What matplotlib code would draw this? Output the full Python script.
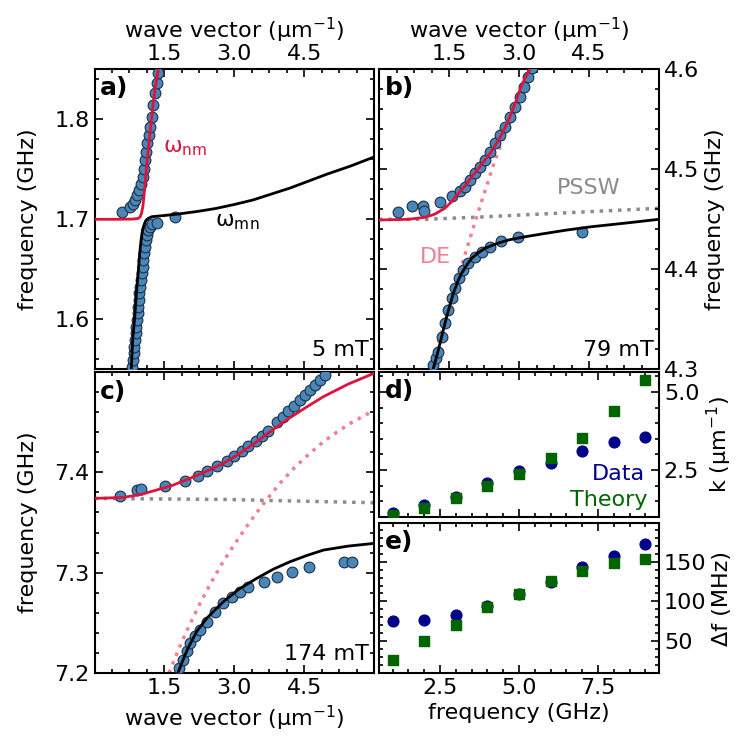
import numpy as np
import matplotlib
matplotlib.use('Agg')
from matplotlib import pyplot as plt
from matplotlib.ticker import AutoMinorLocator, MultipleLocator

plt.rcParams['font.family'] = ['DejaVu Sans']
plt.rcParams['font.size'] = 16
plt.rcParams['mathtext.default'] = 'regular'

# ---- panel a) 5 mT ----
a_nm_k = [0.0, 0.5, 0.8, 0.93, 0.98, 1.01, 1.04, 1.06, 1.08, 1.105, 1.13, 1.16, 1.19, 1.225,
          1.26, 1.295, 1.33, 1.38]
a_nm_f = [1.6997, 1.6997, 1.6999, 1.7005, 1.702, 1.706, 1.713, 1.722, 1.7323, 1.745, 1.759,
          1.772, 1.7857, 1.80, 1.8157, 1.828, 1.839, 1.852]
a_mn_k = [0.79, 0.82, 0.86, 0.9, 0.94, 0.97, 1.0, 1.03, 1.07, 1.1, 1.15, 1.23, 1.5, 1.8, 2.2,
          2.6, 3.0, 3.4, 3.8, 4.2, 4.6, 5.0, 5.5, 6.0]
a_mn_f = [1.55, 1.5793, 1.60, 1.6257, 1.648, 1.6657, 1.679, 1.689, 1.695, 1.6983, 1.7005, 1.7023,
          1.7035, 1.705, 1.7075, 1.7105, 1.7145, 1.719, 1.725, 1.731, 1.738, 1.745, 1.753, 1.762]
a_up_k = [0.6, 0.76, 0.82, 0.87, 0.92, 0.962, 1.0, 1.034, 1.06, 1.084, 1.11, 1.134, 1.16, 1.19,
          1.227, 1.26, 1.30, 1.335, 1.37]
a_up_f = [1.7073, 1.7123, 1.715, 1.719, 1.724, 1.729, 1.735, 1.7423, 1.75, 1.759, 1.767, 1.7757,
          1.784, 1.792, 1.8023, 1.814, 1.8257, 1.836, 1.8457]
a_lo_k = [0.80, 0.81, 0.834, 0.845, 0.855, 0.87, 0.884, 0.893, 0.905, 0.925, 0.941, 0.952, 0.962,
          0.98, 0.998, 1.015, 1.034, 1.048, 1.062, 1.085, 1.105, 1.13, 1.155, 1.19, 1.227, 1.333,
          1.72]
a_lo_f = [1.545, 1.552, 1.559, 1.566, 1.5723, 1.579, 1.5857, 1.592, 1.599, 1.606, 1.6123, 1.619,
          1.6257, 1.632, 1.639, 1.646, 1.6523, 1.659, 1.6657, 1.672, 1.679, 1.684, 1.689, 1.692,
          1.695, 1.6957, 1.7023]

# ---- panel b) 79 mT ----
b_up_line_k = [0.0, 0.63, 0.99, 1.2, 1.41, 1.55, 1.70, 1.85, 1.99, 2.13, 2.27, 2.4, 2.52, 2.62,
               2.71, 2.79, 2.86, 2.93, 2.99, 3.05, 3.11, 3.24]
b_up_line_f = [4.449, 4.4497, 4.4517, 4.455, 4.4607, 4.467, 4.4757, 4.4835, 4.4923, 4.5005, 4.509,
               4.517, 4.5257, 4.534, 4.5423, 4.5505, 4.559, 4.567, 4.5757, 4.5825, 4.589, 4.6007]
b_lo_line_k = [1.16, 1.25, 1.33, 1.45, 1.593, 1.7, 1.771, 1.88, 1.986, 2.12, 2.271, 2.5, 2.771,
               3.1, 3.486, 4.0, 4.557, 5.3, 6.0]
b_lo_line_f = [4.30, 4.315, 4.33, 4.3523, 4.3757, 4.389, 4.3957, 4.404, 4.4107, 4.416, 4.4207,
               4.425, 4.429, 4.432, 4.435, 4.4388, 4.4423, 4.446, 4.4497]
b_pssw_k = [0.0, 0.986, 2.057, 3.486, 4.914, 6.0]
b_pssw_f = [4.4497, 4.4497, 4.4517, 4.455, 4.4583, 4.4607]
b_de_k = [1.09, 1.307, 1.55, 1.807, 2.093, 2.486, 2.914, 3.307]
b_de_f = [4.30, 4.3323, 4.37, 4.409, 4.4523, 4.509, 4.559, 4.599]
b_up_k = [0.414, 0.7, 0.95, 0.971, 1.307, 1.557, 1.736, 1.843, 1.95, 2.057, 2.164, 2.271, 2.379,
          2.486, 2.593, 2.7, 2.807, 2.914, 3.021, 3.114, 3.2, 3.271]
b_up_f = [4.4573, 4.463, 4.463, 4.4583, 4.4673, 4.473, 4.4783, 4.4823, 4.489, 4.4957, 4.5023,
          4.509, 4.5173, 4.5257, 4.534, 4.5423, 4.5523, 4.5623, 4.5723, 4.5823, 4.5923, 4.6007]
b_lo_k = [1.164, 1.22, 1.271, 1.343, 1.414, 1.486, 1.557, 1.628, 1.714, 1.807, 1.914, 2.057, 2.2,
          2.379, 2.614, 2.986, 4.357]
b_lo_f = [4.304, 4.311, 4.3173, 4.3323, 4.3457, 4.359, 4.3707, 4.3807, 4.3907, 4.399, 4.4063,
          4.4123, 4.4173, 4.4223, 4.428, 4.4323, 4.4373]

# ---- panel c) 174 mT ----
c_up_line_k = [0.0, 0.62, 1.0, 1.335, 1.7, 2.05, 2.4, 2.766, 3.12, 3.481, 3.839, 4.197, 4.55,
               4.913, 5.45, 6.0]
c_up_line_f = [7.374, 7.375, 7.378, 7.3824, 7.3875, 7.394, 7.401, 7.4089, 7.419, 7.4305, 7.4428,
               7.4545, 7.465, 7.4754, 7.488, 7.4987]
c_lo_line_k = [1.79, 1.9, 2.0, 2.19, 2.408, 2.6, 2.766, 3.1, 3.481, 3.84, 4.197, 4.55, 4.913,
               5.45, 6.0]
c_lo_line_f = [7.20, 7.213, 7.224, 7.2411, 7.2544, 7.2635, 7.271, 7.2835, 7.2943, 7.3035, 7.3109,
               7.317, 7.3225, 7.3265, 7.3292]
c_pssw_k = [0.0, 2.766, 6.0]
c_pssw_f = [7.374, 7.373, 7.3697]
c_de_k = [1.6, 1.8, 2.0, 2.25, 2.5, 2.75, 3.0, 3.25, 3.5, 3.75, 4.0, 4.3, 4.6, 4.9, 5.2, 5.5,
          5.85, 6.0]
c_de_f = [7.200, 7.223, 7.244, 7.268, 7.290, 7.310, 7.328, 7.345, 7.361, 7.376, 7.390, 7.405,
          7.418, 7.430, 7.440, 7.449, 7.458, 7.461]
c_up_k = [0.547, 0.905, 0.991, 1.514, 1.943, 2.229, 2.408, 2.637, 2.837, 2.995, 3.159, 3.303,
          3.46, 3.589, 3.732, 3.911, 4.04, 4.161, 4.283, 4.412, 4.519, 4.626, 4.734, 4.841, 4.948]
c_up_f = [7.3764, 7.3824, 7.383, 7.3863, 7.3917, 7.3963, 7.4013, 7.4063, 7.4113, 7.4166, 7.4216,
          7.4266, 7.4312, 7.4365, 7.4415, 7.4505, 7.4555, 7.4611, 7.4661, 7.4721, 7.4771, 7.4821,
          7.487, 7.492, 7.497]
c_lo_k = [1.82, 1.9, 1.98, 2.06, 2.15, 2.265, 2.408, 2.587, 2.766, 2.945, 3.124, 3.303, 3.639,
          3.911, 4.233, 4.605, 5.356, 5.521]
c_lo_f = [7.205, 7.213, 7.222, 7.23, 7.237, 7.2428, 7.2511, 7.2611, 7.2694, 7.276, 7.281, 7.2853,
          7.291, 7.2959, 7.3009, 7.3059, 7.3109, 7.3109]

# ---- panels d) and e) ----
freq = [1, 2, 3, 4, 5, 6, 7, 8, 9]
k_data = [1.11, 1.38, 1.62, 2.07, 2.45, 2.73, 3.12, 3.39, 3.57]
k_theory = [1.06, 1.27, 1.59, 2.0, 2.37, 2.87, 3.52, 4.39, 5.38]
df_data = [75.7, 76, 82.3, 94.3, 109, 125, 144, 156.7, 172.4]
df_theory = [26, 49.7, 70, 92.8, 109, 126, 138.6, 148.4, 153.4]
k_ticks = [1.5, 3.0, 4.5]

RED = '#dc143c'
PINK = '#f08092'
GRAY = '#8c8c8c'
DOT = '#4a86b8'
NAVY = '#00008b'
GREEN = '#006400'

W, H = 752, 750
fig = plt.figure(figsize=(7.52, 7.5), dpi=100)


def box(x0, y0, x1, y1):
    return [x0 / W, 1 - y1 / H, (x1 - x0) / W, (y1 - y0) / H]


ax_a = fig.add_axes(box(94.5, 69, 374, 369))
ax_b = fig.add_axes(box(379, 69, 659, 369))
ax_c = fig.add_axes(box(94.5, 372, 374, 673))
ax_d = fig.add_axes(box(379, 372, 659, 517))
ax_e = fig.add_axes(box(379, 523, 659, 673))


def style(ax):
    for s in ax.spines.values():
        s.set_linewidth(1.5)
    ax.tick_params(which='both', direction='in', top=True, right=True, width=1.2)
    ax.tick_params(which='major', length=6)
    ax.tick_params(which='minor', length=3)


def dispersion(ax, ylo, yhi):
    style(ax)
    ax.set_xlim(0, 6)
    ax.set_ylim(ylo, yhi)
    ax.set_xticks(k_ticks)
    ax.xaxis.set_minor_locator(MultipleLocator(0.375))
    ax.yaxis.set_major_locator(MultipleLocator(0.1))
    ax.yaxis.set_minor_locator(AutoMinorLocator(5))


def dots(ax, k, f):
    ax.scatter(k, f, s=60, color=DOT, edgecolor='#1b2f45', linewidth=0.8, zorder=3)


def tag(ax, s, y=0.975):
    ax.text(0.02, y, s, transform=ax.transAxes, ha='left', va='top', fontweight='bold', fontsize=18)


# a)
dispersion(ax_a, 1.55, 1.85)
dots(ax_a, a_up_k, a_up_f)
dots(ax_a, a_lo_k, a_lo_f)
ax_a.plot(a_nm_k, a_nm_f, color=RED, lw=2, zorder=4)
ax_a.plot(a_mn_k, a_mn_f, color='black', lw=2, zorder=4)
ax_a.tick_params(labeltop=True, labelbottom=False)
ax_a.xaxis.set_label_position('top')
ax_a.set_xlabel('wave vector (μm$^{-1}$)')
ax_a.set_ylabel('frequency (GHz)', labelpad=12)
ax_a.text(0.245, 0.737, 'ω$_{\\mathrm{nm}}$', color=RED, transform=ax_a.transAxes, va='center')
ax_a.text(0.431, 0.49, 'ω$_{\\mathrm{mn}}$', color='black', transform=ax_a.transAxes, va='center')
ax_a.text(0.98, 0.03, '5 mT', transform=ax_a.transAxes, ha='right', va='bottom')
tag(ax_a, 'a)')

# b)
dispersion(ax_b, 4.3, 4.6)
ax_b.plot(b_pssw_k, b_pssw_f, color=GRAY, lw=2.5, ls=':', zorder=1)
ax_b.plot(b_de_k, b_de_f, color=PINK, lw=2.5, ls=':', zorder=1)
dots(ax_b, b_up_k, b_up_f)
dots(ax_b, b_lo_k, b_lo_f)
ax_b.plot(b_up_line_k, b_up_line_f, color=RED, lw=2, zorder=4)
ax_b.plot(b_lo_line_k, b_lo_line_f, color='black', lw=2, zorder=4)
ax_b.tick_params(labeltop=True, labelbottom=False, labelleft=False, labelright=True)
ax_b.xaxis.set_label_position('top')
ax_b.yaxis.set_label_position('right')
ax_b.set_xlabel('wave vector (μm$^{-1}$)')
ax_b.set_ylabel('frequency (GHz)')
ax_b.text(0.75, 0.603, 'PSSW', color=GRAY, transform=ax_b.transAxes, ha='center', va='center')
ax_b.text(0.2, 0.373, 'DE', color=PINK, transform=ax_b.transAxes, ha='center', va='center')
ax_b.text(0.98, 0.03, '79 mT', transform=ax_b.transAxes, ha='right', va='bottom')
tag(ax_b, 'b)')

# c)
dispersion(ax_c, 7.2, 7.5)
ax_c.set_yticks([7.2, 7.3, 7.4])
ax_c.plot(c_pssw_k, c_pssw_f, color=GRAY, lw=2.5, ls=':', zorder=1)
ax_c.plot(c_de_k, c_de_f, color=PINK, lw=2.5, ls=':', zorder=1)
dots(ax_c, c_up_k, c_up_f)
dots(ax_c, c_lo_k, c_lo_f)
ax_c.plot(c_up_line_k, c_up_line_f, color=RED, lw=2, zorder=4)
ax_c.plot(c_lo_line_k, c_lo_line_f, color='black', lw=2, zorder=4)
ax_c.set_xlabel('wave vector (μm$^{-1}$)')
ax_c.set_ylabel('frequency (GHz)', labelpad=12)
ax_c.text(0.98, 0.03, '174 mT', transform=ax_c.transAxes, ha='right', va='bottom')
tag(ax_c, 'c)')

# d)
style(ax_d)
ax_d.scatter(freq, k_data, s=60, color=NAVY, marker='o', zorder=3)
ax_d.scatter(freq, k_theory, s=55, color=GREEN, marker='s', zorder=3)
ax_d.set_xlim(0.57, 9.43)
ax_d.set_ylim(0.99, 5.64)
ax_d.xaxis.set_major_locator(MultipleLocator(2.5))
ax_d.xaxis.set_minor_locator(AutoMinorLocator(5))
ax_d.yaxis.set_major_locator(MultipleLocator(2.5))
ax_d.yaxis.set_minor_locator(AutoMinorLocator(5))
ax_d.tick_params(labelbottom=False, labelleft=False, labelright=True)
ax_d.yaxis.set_label_position('right')
ax_d.set_ylabel('k (μm$^{-1}$)')
ax_d.text(0.95, 0.297, 'Data', color=NAVY, transform=ax_d.transAxes, ha='right', va='center')
ax_d.text(0.96, 0.117, 'Theory', color=GREEN, transform=ax_d.transAxes, ha='right', va='center')
tag(ax_d, 'd)', 0.95)

# e)
style(ax_e)
ax_e.scatter(freq, df_data, s=60, color=NAVY, marker='o', zorder=3)
ax_e.scatter(freq, df_theory, s=55, color=GREEN, marker='s', zorder=3)
ax_e.set_xlim(0.57, 9.43)
ax_e.set_ylim(9.5, 199)
ax_e.xaxis.set_major_locator(MultipleLocator(2.5))
ax_e.xaxis.set_minor_locator(AutoMinorLocator(5))
ax_e.yaxis.set_major_locator(MultipleLocator(50))
ax_e.yaxis.set_minor_locator(AutoMinorLocator(5))
ax_e.tick_params(labelleft=False, labelright=True)
ax_e.yaxis.set_label_position('right')
ax_e.set_xlabel('frequency (GHz)')
ax_e.set_ylabel('Δf (MHz)')
tag(ax_e, 'e)', 0.95)

fig.savefig('out.png', dpi=100)
